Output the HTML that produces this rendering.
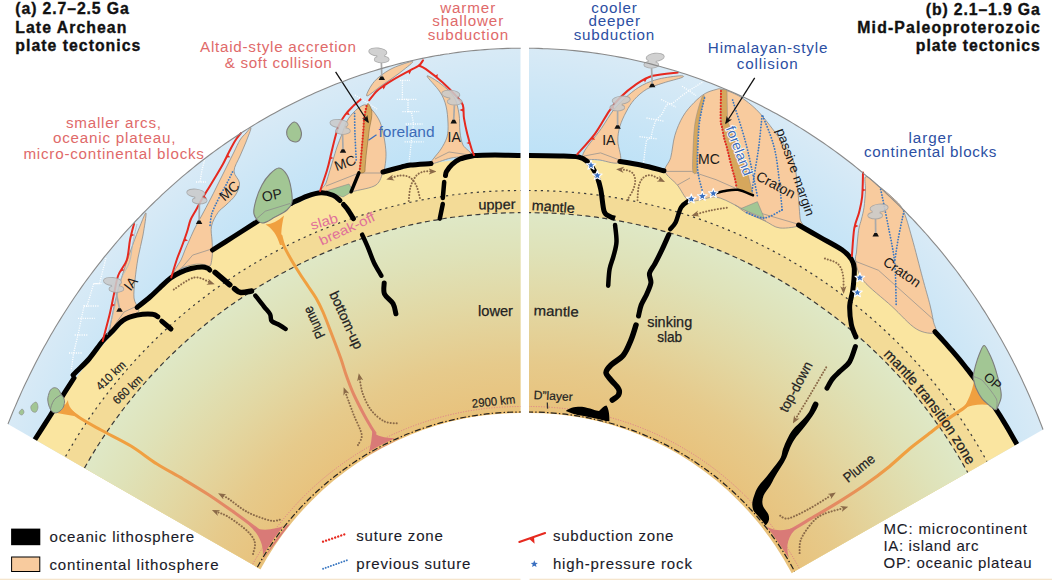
<!DOCTYPE html>
<html><head><meta charset="utf-8"><style>
html,body{margin:0;padding:0;background:#fff;width:1052px;height:581px;overflow:hidden}
svg{display:block;font-family:"Liberation Sans",sans-serif}
.h{font-weight:bold;font-size:15.8px;fill:#111;stroke:#111;stroke-width:0.35px}
.r{font-size:15.2px;fill:#e06a6a}
.b{font-size:15.2px;fill:#2c4fa3}
.b2{font-size:14px;fill:#3d6cb8}
.b2h{font-size:14px;fill:#3d6cb8;stroke:#fff;stroke-width:1.6px;paint-order:stroke}
.k14{font-size:14px;fill:#1a1a1a}
.k13{font-size:13px;fill:#1a1a1a}
.m{font-size:14px;fill:#222;stroke:#222;stroke-width:0.25px}
.m2{font-size:12px;fill:#222;stroke:#222;stroke-width:0.2px}
.p{font-size:13.5px;fill:#e0709a}
.l{font-size:15px;fill:#1a1a28;stroke:#1a1a28;stroke-width:0.12px}
.l2{font-size:15px;fill:#1a1a28;stroke:#1a1a28;stroke-width:0.1px}
</style></head><body>
<svg width="1052" height="581" viewBox="0 0 1052 581">
<defs>
 <clipPath id="cL"><polygon points="-100,362.2 520.7,718.6 520.7,-50 -100,-50"/></clipPath>
 <clipPath id="cR"><polygon points="529,722.8 1152,367.4 1152,-50 529,-50"/></clipPath>
 <radialGradient id="gOL" gradientUnits="userSpaceOnUse" cx="546.0" cy="619.6" r="572.0">
   <stop offset="0.8" stop-color="#bbe1f7"/><stop offset="0.9" stop-color="#c9e5f6"/><stop offset="1" stop-color="#d8eaf6"/>
 </radialGradient>
 <radialGradient id="gOR" gradientUnits="userSpaceOnUse" cx="503.7" cy="619.6" r="572.0">
   <stop offset="0.8" stop-color="#bbe1f7"/><stop offset="0.9" stop-color="#c9e5f6"/><stop offset="1" stop-color="#d8eaf6"/>
 </radialGradient>
 <radialGradient id="gLML" gradientUnits="userSpaceOnUse" cx="520.7" cy="713.0" r="500.3">
   <stop offset="0.6" stop-color="#e8c27c"/><stop offset="0.7" stop-color="#e6ca8b"/><stop offset="0.82" stop-color="#e2d8a4"/><stop offset="0.92" stop-color="#dfe2b8"/><stop offset="1" stop-color="#dfe8c6"/>
 </radialGradient>
 <radialGradient id="gLMR" gradientUnits="userSpaceOnUse" cx="529.0" cy="713.0" r="500.3">
   <stop offset="0.6" stop-color="#e8c27c"/><stop offset="0.7" stop-color="#e6ca8b"/><stop offset="0.82" stop-color="#e2d8a4"/><stop offset="0.92" stop-color="#dfe2b8"/><stop offset="1" stop-color="#dfe8c6"/>
 </radialGradient>
 <linearGradient id="gPlL" gradientUnits="userSpaceOnUse" x1="0" y1="300" x2="0" y2="440">
   <stop offset="0" stop-color="#f0a040"/><stop offset="1" stop-color="#dc7c78"/>
 </linearGradient>
 <linearGradient id="gPlL2" gradientUnits="userSpaceOnUse" x1="150" y1="0" x2="262" y2="0">
   <stop offset="0" stop-color="#f0a040"/><stop offset="1" stop-color="#dc7c78"/>
 </linearGradient>
 <linearGradient id="gPlR" gradientUnits="userSpaceOnUse" x1="900" y1="0" x2="790" y2="0">
   <stop offset="0" stop-color="#f0a040"/><stop offset="1" stop-color="#dc7c78"/>
 </linearGradient>
 <marker id="ah" viewBox="0 0 10 10" refX="5" refY="5" markerWidth="3.9" markerHeight="3.9" orient="auto-start-reverse">
   <path d="M0,1 L10,5 L0,9 L3,5Z" fill="#8b6a48"/>
 </marker>
 <marker id="ahk" viewBox="0 0 10 10" refX="8" refY="5" markerWidth="6" markerHeight="6" orient="auto">
   <path d="M0,1 L10,5 L0,9 L2.5,5Z" fill="#111"/>
 </marker>
 <symbol id="star" viewBox="-6 -6 12 12" overflow="visible">
   <path d="M0,-5 L1.3,-1.7 L4.8,-1.5 L2.1,0.7 L3,4.1 L0,2.2 L-3,4.1 L-2.1,0.7 L-4.8,-1.5 L-1.3,-1.7Z" fill="#3a70c0" stroke="#fff" stroke-width="1.1" stroke-linejoin="round"/>
 </symbol>
</defs>
<g clip-path="url(#cL)">
<path d="M-0.1,445.6 L1.5,441.3 L3.0,437.1 L4.6,432.8 L6.2,428.6 L7.8,424.4 L9.5,420.2 L11.2,416.0 L12.9,411.8 L14.7,407.6 L16.5,403.5 L18.3,399.3 L20.1,395.2 L21.9,391.1 L23.8,387.0 L25.7,382.9 L27.7,378.9 L29.7,374.8 L31.7,370.8 L33.7,366.7 L35.7,362.7 L37.8,358.7 L39.9,354.8 L42.0,350.8 L44.2,346.8 L46.4,342.9 L48.6,339.0 L50.8,335.1 L53.1,331.2 L55.4,327.3 L57.7,323.5 L60.1,319.6 L62.5,315.8 L64.9,312.0 L67.3,308.2 L69.7,304.5 L72.2,300.7 L74.7,297.0 L77.3,293.3 L79.8,289.6 L82.4,285.9 L85.0,282.3 L87.7,278.6 L90.4,275.0 L93.1,271.4 L95.8,267.9 L98.5,264.3 L101.3,260.8 L104.1,257.2 L106.9,253.8 L109.8,250.3 L112.7,246.8 L115.6,243.4 L118.5,240.0 L121.4,236.6 L124.4,233.2 L127.4,229.9 L130.5,226.6 L133.5,223.3 L136.6,220.0 L139.7,216.8 L142.8,213.5 L146.0,210.3 L149.2,207.1 L152.4,204.0 L155.6,200.9 L158.9,197.8 L162.1,194.7 L165.4,191.6 L168.8,188.6 L172.1,185.6 L175.5,182.6 L178.9,179.7 L182.3,176.7 L185.7,173.8 L189.2,171.0 L192.7,168.1 L196.2,165.3 L199.7,162.5 L203.3,159.7 L206.9,157.0 L210.5,154.3 L214.1,151.6 L217.7,149.0 L221.4,146.4 L225.1,143.8 L228.8,141.2 L232.5,138.7 L236.3,136.2 L240.0,133.7 L243.8,131.3 L247.6,128.9 L251.5,126.5 L255.3,124.1 L259.2,121.8 L263.1,119.5 L267.0,117.3 L270.9,115.1 L274.8,112.9 L278.8,110.7 L282.8,108.6 L286.8,106.5 L290.8,104.5 L294.8,102.4 L298.9,100.4 L302.9,98.5 L307.0,96.6 L311.1,94.7 L315.2,92.8 L319.4,91.0 L323.5,89.2 L327.7,87.5 L331.8,85.8 L336.0,84.1 L340.2,82.5 L344.4,80.9 L348.7,79.3 L352.9,77.8 L357.2,76.3 L361.4,74.8 L365.7,73.4 L370.0,72.0 L374.3,70.7 L378.6,69.4 L383.0,68.1 L387.3,66.9 L391.7,65.7 L396.0,64.5 L400.4,63.4 L404.8,62.3 L409.2,61.3 L413.6,60.3 L418.0,59.3 L422.4,58.4 L426.8,57.5 L431.2,56.6 L435.6,55.8 L440.1,55.1 L444.5,54.3 L449.0,53.7 L453.4,53.0 L457.9,52.4 L462.4,51.8 L466.8,51.3 L471.3,50.8 L475.8,50.4 L480.3,50.0 L484.8,49.6 L489.3,49.3 L493.7,49.0 L498.2,48.8 L502.7,48.6 L507.2,48.4 L511.7,48.3 L516.2,48.3 L520.7,48.2 L525.2,48.2 L529.7,48.3 L534.2,48.4 L538.6,48.5 L543.1,48.7 L560,730 L-120,730 Z" fill="url(#gOL)"/>
<circle cx="520.7" cy="713.0" r="557.0" fill="#fae5a0"/>
<circle cx="520.7" cy="713.0" r="522.5" fill="#f3db97"/>
<circle cx="520.7" cy="713.0" r="500.3" fill="url(#gLML)"/>
<circle cx="520.7" cy="713.0" r="522.5" fill="none" stroke="#3a3a3a" stroke-width="1.2" stroke-dasharray="2.2 4"/>
<circle cx="520.7" cy="713.0" r="500.3" fill="none" stroke="#3a3a3a" stroke-width="1.2" stroke-dasharray="5 3.5"/>
<circle cx="520.7" cy="713.0" r="306.5" fill="none" stroke="#dd6f8c" stroke-width="0.9" stroke-dasharray="1 1.6"/>
</g>
<g clip-path="url(#cR)">
<path d="M506.6,48.7 L511.1,48.5 L515.6,48.4 L520.2,48.3 L524.7,48.3 L529.2,48.3 L533.7,48.3 L538.3,48.4 L542.8,48.6 L547.3,48.7 L551.9,49.0 L556.4,49.2 L560.9,49.5 L565.4,49.8 L570.0,50.2 L574.5,50.6 L579.0,51.1 L583.5,51.6 L588.0,52.1 L592.5,52.7 L597.0,53.4 L601.5,54.0 L606.0,54.7 L610.5,55.5 L614.9,56.2 L619.4,57.1 L623.9,57.9 L628.3,58.8 L632.8,59.8 L637.2,60.8 L641.6,61.8 L646.1,62.8 L650.5,63.9 L654.9,65.1 L659.3,66.3 L663.6,67.5 L668.0,68.7 L672.4,70.0 L676.7,71.3 L681.1,72.7 L685.4,74.1 L689.7,75.6 L694.0,77.0 L698.3,78.5 L702.5,80.1 L706.8,81.7 L711.0,83.3 L715.3,85.0 L719.5,86.7 L723.7,88.4 L727.9,90.2 L732.1,92.0 L736.2,93.8 L740.4,95.7 L744.5,97.6 L748.6,99.5 L752.7,101.5 L756.8,103.5 L760.8,105.6 L764.9,107.7 L768.9,109.8 L772.9,111.9 L776.9,114.1 L780.8,116.3 L784.8,118.6 L788.7,120.8 L792.6,123.1 L796.5,125.5 L800.4,127.9 L804.2,130.3 L808.1,132.7 L811.9,135.2 L815.7,137.7 L819.4,140.2 L823.2,142.8 L826.9,145.4 L830.6,148.0 L834.3,150.6 L837.9,153.3 L841.6,156.0 L845.2,158.8 L848.8,161.5 L852.4,164.3 L855.9,167.1 L859.4,170.0 L862.9,172.9 L866.4,175.8 L869.9,178.7 L873.3,181.7 L876.7,184.7 L880.1,187.7 L883.5,190.7 L886.8,193.8 L890.1,196.9 L893.4,200.0 L896.6,203.1 L899.9,206.3 L903.1,209.5 L906.3,212.7 L909.4,216.0 L912.6,219.2 L915.7,222.5 L918.8,225.8 L921.8,229.2 L924.9,232.5 L927.9,235.9 L930.8,239.3 L933.8,242.8 L936.7,246.2 L939.6,249.7 L942.5,253.2 L945.3,256.7 L948.2,260.3 L950.9,263.8 L953.7,267.4 L956.5,271.0 L959.2,274.6 L961.8,278.3 L964.5,281.9 L967.1,285.6 L969.7,289.3 L972.3,293.0 L974.9,296.8 L977.4,300.5 L979.9,304.3 L982.3,308.1 L984.8,311.9 L987.2,315.8 L989.5,319.6 L991.9,323.5 L994.2,327.4 L996.5,331.3 L998.8,335.2 L1001.0,339.1 L1003.2,343.1 L1005.4,347.0 L1007.6,351.0 L1009.7,355.0 L1011.8,359.0 L1013.8,363.1 L1015.9,367.1 L1017.9,371.2 L1019.9,375.2 L1021.8,379.3 L1023.7,383.4 L1025.6,387.6 L1027.5,391.7 L1029.3,395.8 L1031.1,400.0 L1032.9,404.2 L1034.7,408.4 L1036.4,412.6 L1038.1,416.8 L1039.7,421.0 L1041.4,425.2 L1043.0,429.5 L1044.5,433.8 L1046.1,438.0 L1047.6,442.3 L1049.1,446.6 L1050.5,450.9 L1180,730 L500,730 Z" fill="url(#gOR)"/>
<circle cx="529.0" cy="713.0" r="557.0" fill="#fae5a0"/>
<circle cx="529.0" cy="713.0" r="522.5" fill="#f3db97"/>
<circle cx="529.0" cy="713.0" r="500.3" fill="url(#gLMR)"/>
<circle cx="529.0" cy="713.0" r="522.5" fill="none" stroke="#3a3a3a" stroke-width="1.2" stroke-dasharray="2.2 4"/>
<circle cx="529.0" cy="713.0" r="500.3" fill="none" stroke="#3a3a3a" stroke-width="1.2" stroke-dasharray="5 3.5"/>
<circle cx="529.0" cy="713.0" r="306.5" fill="none" stroke="#dd6f8c" stroke-width="0.9" stroke-dasharray="1 1.6"/>
</g>
<g clip-path="url(#cL)"><path d="M106.0,258.0 L99.5,283.5 L93.7,283.6 L87.0,306.0 L84.0,306.0 L81.4,318.3 L78.0,335.0 L73.6,353.0 L71.3,370.0" fill="none" stroke="#fff" stroke-width="1.3" stroke-dasharray="1.1 1.2"/>
<path d="M93.7,283.6 L101.5,283.6" fill="none" stroke="#fff" stroke-width="1.3" stroke-dasharray="1.1 1.2"/>
<path d="M83.6,306.0 L99.3,306.0" fill="none" stroke="#fff" stroke-width="1.3" stroke-dasharray="1.1 1.2"/>
<path d="M78.0,318.3 L94.8,318.3" fill="none" stroke="#fff" stroke-width="1.3" stroke-dasharray="1.1 1.2"/>
<path d="M74.7,335.0 L88.1,335.0" fill="none" stroke="#fff" stroke-width="1.3" stroke-dasharray="1.1 1.2"/>
<path d="M69.0,353.0 L82.5,353.0" fill="none" stroke="#fff" stroke-width="1.3" stroke-dasharray="1.1 1.2"/>
<path d="M205.0,158.0 L202.0,170.0 L200.0,182.0" fill="none" stroke="#fff" stroke-width="1.3" stroke-dasharray="1.1 1.2"/>
<path d="M196.0,182.0 L206.0,182.0" fill="none" stroke="#fff" stroke-width="1.3" stroke-dasharray="1.1 1.2"/>
<path d="M402.4,80.3 L402.4,99.3 L408.0,99.3 L408.0,111.6 L411.3,111.6 L413.6,124.0 L413.6,124.0 L411.3,141.9 L409.1,162.0" fill="none" stroke="#fff" stroke-width="1.3" stroke-dasharray="1.1 1.2"/>
<path d="M400.0,80.3 L410.0,80.3" fill="none" stroke="#fff" stroke-width="1.3" stroke-dasharray="1.1 1.2"/>
<path d="M396.8,99.3 L416.9,99.3" fill="none" stroke="#fff" stroke-width="1.3" stroke-dasharray="1.1 1.2"/>
<path d="M402.4,111.6 L419.2,111.6" fill="none" stroke="#fff" stroke-width="1.3" stroke-dasharray="1.1 1.2"/>
<path d="M405.7,124.0 L422.5,124.0" fill="none" stroke="#fff" stroke-width="1.3" stroke-dasharray="1.1 1.2"/>
<path d="M404.6,141.9 L423.6,141.9" fill="none" stroke="#fff" stroke-width="1.3" stroke-dasharray="1.1 1.2"/>
<path d="M355.0,95.0 L366.0,102.0 L377.0,109.0" fill="none" stroke="#fff" stroke-width="1.3" stroke-dasharray="1.1 1.2"/>
<path d="M146.0,213.0 C146.5,214.5 144.3,227.5 143.0,235.0 C141.7,242.5 139.3,250.5 138.0,258.0 C136.7,265.5 135.7,273.3 135.0,280.0 C134.3,286.7 133.5,293.3 134.0,298.0 C134.5,302.7 137.4,305.6 138.0,308.0 C138.6,310.4 139.9,310.8 137.5,312.5 C135.1,314.2 127.8,315.1 123.5,318.0 C119.2,320.9 114.4,327.0 112.0,330.0 C109.6,333.0 109.2,337.3 109.0,336.0 C108.8,334.7 110.0,327.7 111.0,322.0 C112.0,316.3 113.5,308.5 115.0,302.0 C116.5,295.5 118.2,289.3 120.0,283.0 C121.8,276.7 123.8,270.5 126.0,264.0 C128.2,257.5 130.7,250.3 133.0,244.0 C135.3,237.7 137.8,231.2 140.0,226.0 C142.2,220.8 145.5,211.5 146.0,213.0Z" fill="#f8cb9e" stroke="#8c8c8c" stroke-width="0.8" stroke-linejoin="round"/>
<path d="M114,326 L124,312 L137,306" fill="none" stroke="#8c8c8c" stroke-width="0.7"/>
<path d="M251.0,128.0 C251.0,129.5 247.8,137.3 246.0,142.0 C244.2,146.7 242.0,151.2 240.0,156.0 C238.0,160.8 234.1,166.5 234.0,171.0 C233.9,175.5 239.2,179.0 239.5,183.0 C239.8,187.0 237.8,191.3 235.5,195.0 C233.2,198.7 228.9,202.1 226.0,205.0 C223.1,207.9 220.4,209.0 218.0,212.5 C215.6,216.0 212.5,221.4 211.5,226.0 C210.5,230.6 211.8,236.0 212.0,240.0 C212.2,244.0 212.5,247.0 212.5,250.0 C212.5,253.0 212.4,255.3 212.0,258.0 C211.6,260.7 211.3,264.9 210.0,266.0 C208.7,267.1 206.7,264.8 204.0,264.5 C201.3,264.2 197.8,263.8 194.0,264.5 C190.2,265.2 184.3,266.9 181.0,268.5 C177.7,270.1 174.8,274.1 174.0,274.0 C173.2,273.9 174.8,270.3 176.0,268.0 C177.2,265.7 179.5,263.0 181.0,260.0 C182.5,257.0 183.7,253.2 185.0,250.0 C186.3,246.8 187.7,244.0 189.0,241.0 C190.3,238.0 191.7,234.8 193.0,232.0 C194.3,229.2 195.5,226.8 197.0,224.0 C198.5,221.2 200.5,217.8 202.0,215.0 C203.5,212.2 204.5,210.3 206.0,207.5 C207.5,204.7 209.3,201.2 211.0,198.0 C212.7,194.8 214.2,191.7 216.0,188.0 C217.8,184.3 220.0,180.0 222.0,176.0 C224.0,172.0 226.0,168.0 228.0,164.0 C230.0,160.0 232.0,156.0 234.0,152.0 C236.0,148.0 238.0,143.2 240.0,140.0 C242.0,136.8 244.2,135.0 246.0,133.0 C247.8,131.0 251.0,126.5 251.0,128.0Z" fill="#f8cb9e" stroke="#8c8c8c" stroke-width="0.8" stroke-linejoin="round"/>
<path d="M180.7,269 L192.7,255.1 L211.7,249" fill="none" stroke="#8c8c8c" stroke-width="0.7"/>
<path d="M366.0,105.0 C368.2,105.7 370.7,108.2 373.0,111.0 C375.3,113.8 378.2,117.7 380.0,122.0 C381.8,126.3 383.0,131.8 384.0,137.0 C385.0,142.2 385.8,148.2 386.0,153.0 C386.2,157.8 385.5,162.8 385.0,166.0 C384.5,169.2 384.5,168.8 383.0,172.0 C381.5,175.2 380.7,181.8 376.0,185.0 C371.3,188.2 360.8,189.5 355.0,191.0 C349.2,192.5 346.5,194.0 341.0,194.0 C335.5,194.0 324.5,192.8 322.0,191.0 C319.5,189.2 324.7,186.5 326.0,183.0 C327.3,179.5 328.8,173.8 330.0,170.0 C331.2,166.2 331.8,163.8 333.0,160.0 C334.2,156.2 335.5,151.3 337.0,147.0 C338.5,142.7 340.3,138.3 342.0,134.0 C343.7,129.7 345.0,124.7 347.0,121.0 C349.0,117.3 351.8,114.3 354.0,112.0 C356.2,109.7 358.0,108.2 360.0,107.0 C362.0,105.8 363.8,104.3 366.0,105.0Z" fill="#f8cb9e" stroke="#8c8c8c" stroke-width="0.8" stroke-linejoin="round"/>
<path d="M326.0,191.0 L349.0,184.0 L353.0,191.0 L343.0,197.0Z" fill="#a2c694" stroke="#8c8c8c" stroke-width="0.6" stroke-linejoin="round"/>
<path d="M326,186 L359,173 L383,173" fill="none" stroke="#8c8c8c" stroke-width="0.7"/>
<path d="M368.0,103.5 C368.9,103.5 370.9,107.6 371.5,110.0 C372.1,112.4 371.8,115.0 371.5,118.0 C371.2,121.0 370.1,124.3 369.5,128.0 C368.9,131.7 368.5,136.0 368.0,140.0 C367.5,144.0 367.0,147.7 366.5,152.0 C366.0,156.3 365.5,162.7 365.2,166.0 C364.9,169.3 365.4,171.0 364.5,172.0 C363.6,173.0 360.1,173.7 359.5,172.0 C358.9,170.3 360.2,166.0 360.6,161.7 C361.0,157.4 361.5,151.1 362.0,146.0 C362.5,140.9 363.2,135.3 363.5,131.0 C363.8,126.7 363.6,123.5 364.0,120.0 C364.4,116.5 365.3,112.8 366.0,110.0 C366.7,107.2 367.1,103.5 368.0,103.5Z" fill="#d6a75c" stroke="#8a6a3a" stroke-width="0.6" stroke-linejoin="round"/>
<path d="M367.0,96.0 C365.3,96.0 369.0,89.2 371.0,86.0 C373.0,82.8 375.3,80.0 379.0,77.0 C382.7,74.0 387.4,70.6 393.0,68.0 C398.6,65.4 410.7,61.2 412.5,61.5 C414.3,61.8 407.1,66.9 404.0,69.5 C400.9,72.1 397.8,74.2 394.0,77.0 C390.2,79.8 385.5,82.8 381.0,86.0 C376.5,89.2 368.7,96.0 367.0,96.0Z" fill="#f8cb9e" stroke="#8c8c8c" stroke-width="0.8" stroke-linejoin="round"/>
<path d="M427.0,76.0 C427.2,74.7 436.5,80.5 441.0,84.0 C445.5,87.5 451.0,92.0 454.0,97.0 C457.0,102.0 458.0,108.2 459.0,114.0 C460.0,119.8 459.3,126.8 460.0,132.0 C460.7,137.2 461.2,141.2 463.0,145.0 C464.8,148.8 473.0,152.8 471.0,155.0 C469.0,157.2 457.7,156.5 451.0,158.0 C444.3,159.5 433.8,164.0 431.0,164.0 C428.2,164.0 432.3,160.5 434.0,158.0 C435.7,155.5 438.8,152.5 441.0,149.0 C443.2,145.5 445.8,141.3 447.0,137.0 C448.2,132.7 448.2,128.2 448.0,123.0 C447.8,117.8 447.3,111.2 446.0,106.0 C444.7,100.8 443.2,97.0 440.0,92.0 C436.8,87.0 426.8,77.3 427.0,76.0Z" fill="#f8cb9e" stroke="#8c8c8c" stroke-width="0.8" stroke-linejoin="round"/>
<path d="M435,159 L449,152 L470,155" fill="none" stroke="#8c8c8c" stroke-width="0.7"/>
<path d="M64.0,406.0 C66.7,408.0 73.8,414.0 80.0,418.0 C86.2,422.0 92.5,425.3 101.0,430.0 C109.5,434.7 121.7,440.3 131.0,446.0 C140.3,451.7 148.3,458.5 157.0,464.0 C165.7,469.5 174.3,473.8 183.0,479.0 C191.7,484.2 200.3,489.3 209.0,495.0 C217.7,500.7 226.8,507.2 235.0,513.0 C243.2,518.8 251.8,525.5 258.0,530.0 C264.2,534.5 269.7,538.3 272.0,540.0" fill="none" stroke="url(#gPlL2)" stroke-width="3.1" stroke-linecap="round"/>
<path d="M57,413 C63,408 66,404 68,400 C68,406 72,411 80,417 C72,416 64,414 57,413Z" fill="#f0a040"/>
<path d="M281.0,236.0 C281.5,237.7 282.2,241.8 284.0,246.0 C285.8,250.2 289.3,256.3 292.0,261.0 C294.7,265.7 297.3,269.8 300.0,274.0 C302.7,278.2 305.3,282.0 308.0,286.0 C310.7,290.0 313.5,293.7 316.0,298.0 C318.5,302.3 320.3,305.8 323.0,312.0 C325.7,318.2 329.0,327.2 332.0,335.0 C335.0,342.8 338.6,352.2 341.0,359.0 C343.4,365.8 344.3,370.0 346.5,376.0 C348.7,382.0 351.1,388.7 354.0,395.0 C356.9,401.3 360.8,408.7 363.6,414.0 C366.4,419.3 369.1,423.8 371.0,427.0 C372.9,430.2 374.3,432.0 375.0,433.0" fill="none" stroke="url(#gPlL)" stroke-width="3" stroke-linecap="round"/>
<path d="M265.5,224.5 C272,224 278,221 284,215.5 C281.5,226 280.5,235 282,245 L280,245 C277,235 272,228 265.5,224.5Z" fill="#f0a040"/>
<path d="M248,524 C258,531 268,532 290,524 L262,561 C265,548 261,536 248,524Z" fill="#d97a77"/>
<path d="M372.5,428 C374,436 381,438 400,438.5 L368,455 C371,446 372,437 372.5,428Z" fill="#d97a77"/>
<path d="M26.0,454.0 C27.3,451.8 30.0,447.3 34.0,441.0 C38.0,434.7 44.8,424.2 50.0,416.0 C55.2,407.8 61.0,398.3 65.0,392.0 C69.0,385.7 72.5,380.3 74.0,378.0" fill="none" stroke="#000" stroke-width="5" stroke-linecap="round" stroke-linejoin="round"/>
<path d="M73.0,375.0 C73.7,374.3 74.3,373.7 77.0,371.0 C79.7,368.3 84.7,364.0 89.0,359.0 C93.3,354.0 99.0,345.4 102.7,341.0 C106.4,336.6 107.9,335.8 111.3,332.3 C114.7,328.9 119.0,323.2 123.3,320.3 C127.6,317.4 132.2,316.1 137.1,315.1 C142.0,314.1 149.1,313.9 152.6,314.2 C156.1,314.5 156.9,316.4 157.8,316.8" fill="none" stroke="#000" stroke-width="5" stroke-linecap="round" stroke-linejoin="round"/>
<path d="M161.7,321.2 L171.0,329.0" fill="none" stroke="#000" stroke-width="5" stroke-linecap="round" stroke-linejoin="round"/>
<path d="M137.1,307.4 C139.2,305.7 146.2,300.3 150.0,297.0 C153.8,293.7 156.5,290.8 160.0,287.6 C163.5,284.4 167.6,280.3 171.0,277.8 C174.4,275.3 177.0,273.9 180.3,272.4 C183.7,270.8 187.5,269.4 191.1,268.5 C194.7,267.6 199.2,267.0 202.0,267.0 C204.8,267.0 206.9,268.0 208.2,268.5 C209.5,269.0 209.4,269.8 209.7,270.0" fill="none" stroke="#000" stroke-width="5" stroke-linecap="round" stroke-linejoin="round"/>
<path d="M215.1,272.4 L229.8,284.8" fill="none" stroke="#000" stroke-width="5.5" stroke-linecap="round" stroke-linejoin="round"/>
<path d="M234.5,288.7 C235.5,289.3 237.9,292.1 240.7,292.5 C243.5,292.9 249.7,291.2 251.5,291.0" fill="none" stroke="#000" stroke-width="5.5" stroke-linecap="round" stroke-linejoin="round"/>
<path d="M255.4,295.6 C256.8,297.4 261.4,303.4 263.9,306.5 C266.3,309.6 268.8,311.8 270.1,314.2 C271.4,316.6 270.1,319.2 271.7,321.0 C273.2,322.8 277.1,323.7 279.4,325.0 C281.7,326.3 284.6,328.3 285.6,329.0" fill="none" stroke="#000" stroke-width="4.5" stroke-linecap="round" stroke-linejoin="round"/>
<path d="M212.5,250.0 C215.9,247.8 226.0,241.5 233.0,237.0 C240.0,232.5 248.2,227.4 254.7,223.2 C261.2,219.0 266.0,215.3 272.0,212.0 C278.0,208.7 287.8,204.8 290.9,203.4" fill="none" stroke="#000" stroke-width="5" stroke-linecap="round" stroke-linejoin="round"/>
<path d="M290.9,203.4 C293.6,202.2 302.2,197.9 307.2,196.1 C312.2,194.3 316.7,192.8 321.0,192.7 C325.3,192.5 329.8,193.9 333.0,195.2 C336.2,196.5 338.8,199.6 340.0,200.5" fill="none" stroke="#000" stroke-width="5" stroke-linecap="round" stroke-linejoin="round"/>
<path d="M343.5,204.5 C344.2,205.4 346.4,207.7 348.0,210.0 C349.6,212.3 352.5,217.2 353.4,218.6" fill="none" stroke="#000" stroke-width="5" stroke-linecap="round" stroke-linejoin="round"/>
<path d="M362.2,234.7 C363.2,236.9 366.2,243.3 368.1,247.9 C370.1,252.5 371.7,257.9 373.9,262.5 C376.1,267.1 380.1,273.5 381.3,275.7" fill="none" stroke="#000" stroke-width="4.5" stroke-linecap="round" stroke-linejoin="round"/>
<path d="M384.2,283.0 C384.2,284.8 383.0,290.6 384.5,294.0 C386.0,297.4 391.1,300.2 393.0,303.5 C394.9,306.8 395.4,312.1 395.9,313.8" fill="none" stroke="#000" stroke-width="5" stroke-linecap="round" stroke-linejoin="round"/>
<path d="M358.9,172.9 L351.1,191.8" fill="none" stroke="#000" stroke-width="3.5" stroke-linecap="round" stroke-linejoin="round"/>
<path d="M383.0,172.0 C386.2,171.1 397.4,168.0 402.0,166.8 C406.6,165.7 405.7,165.7 410.5,165.1 C415.3,164.5 427.6,163.8 431.0,163.5" fill="none" stroke="#000" stroke-width="5" stroke-linecap="round" stroke-linejoin="round"/>
<path d="M400,168 L400,170 M431,163.5 L431,166" stroke="#000" stroke-width="1"/>
<path d="M474.0,155.5 C477.5,155.4 487.2,155.0 495.0,155.0 C502.8,155.0 516.7,155.4 521.0,155.5" fill="none" stroke="#000" stroke-width="5" stroke-linecap="butt" stroke-linejoin="round"/>
<path d="M474.0,155.5 C471.7,156.1 463.7,157.5 460.0,159.0 C456.3,160.5 454.2,162.4 452.0,164.5 C449.8,166.6 447.6,169.7 446.5,171.5 C445.4,173.3 445.7,174.8 445.5,175.5" fill="none" stroke="#000" stroke-width="5" stroke-linecap="round" stroke-linejoin="round"/>
<path d="M444.2,182.0 L442.8,198.0" fill="none" stroke="#000" stroke-width="4.5" stroke-linecap="round" stroke-linejoin="round"/>
<path d="M442.8,204.0 L439.8,218.6" fill="none" stroke="#000" stroke-width="4.5" stroke-linecap="round" stroke-linejoin="round"/>
<path d="M254.0,214.0 C253.0,210.2 254.7,204.8 256.0,200.0 C257.3,195.2 259.7,189.3 262.0,185.0 C264.3,180.7 267.2,176.8 270.0,174.0 C272.8,171.2 276.2,167.8 279.0,168.0 C281.8,168.2 285.0,171.7 287.0,175.0 C289.0,178.3 290.2,183.5 291.0,188.0 C291.8,192.5 292.7,198.3 292.0,202.0 C291.3,205.7 289.8,207.5 287.0,210.0 C284.2,212.5 279.2,214.8 275.0,217.0 C270.8,219.2 265.5,223.5 262.0,223.0 C258.5,222.5 255.0,217.8 254.0,214.0Z" fill="#a2c694" stroke="#7d7d7d" stroke-width="1.1" stroke-linejoin="round"/>
<path d="M254,221 L265.3,211.2 L290,203.5" fill="none" stroke="#8c8c8c" stroke-width="0.8"/>
<path d="M294.0,122.0 C296.2,121.7 298.8,125.5 300.0,128.0 C301.2,130.5 301.7,134.7 301.0,137.0 C300.3,139.3 298.0,141.7 296.0,142.0 C294.0,142.3 290.5,141.0 289.0,139.0 C287.5,137.0 286.2,132.8 287.0,130.0 C287.8,127.2 291.8,122.3 294.0,122.0Z" fill="#a2c694" stroke="#7d7d7d" stroke-width="1.1" stroke-linejoin="round"/>
<path d="M48.4,395.4 C48.9,393.7 49.5,391.3 50.5,390.0 C51.5,388.7 53.1,387.8 54.4,387.7 C55.7,387.6 57.4,388.4 58.5,389.5 C59.6,390.6 60.5,393.3 61.3,394.6 C62.1,395.9 63.0,396.3 63.5,397.5 C64.0,398.7 64.7,400.2 64.5,402.0 C64.3,403.8 63.8,406.7 62.5,408.5 C61.2,410.3 58.8,412.2 57.0,412.7 C55.2,413.2 53.3,412.6 52.0,411.5 C50.7,410.4 49.7,407.9 49.0,406.0 C48.3,404.1 47.9,401.8 47.8,400.0 C47.7,398.2 47.9,397.1 48.4,395.4Z" fill="#a2c694" stroke="#808080" stroke-width="1" stroke-linejoin="round"/>
<path d="M50.5,409 C51.5,404 53.5,400 56,398 C58,396.5 60,395.5 61.5,394.5" fill="none" stroke="#808080" stroke-width="0.9"/>
<path d="M36.0,402.0 C37.2,402.2 38.0,405.3 38.0,407.0 C38.0,408.7 37.0,411.3 36.0,412.0 C35.0,412.7 32.8,412.0 32.0,411.0 C31.2,410.0 30.3,407.5 31.0,406.0 C31.7,404.5 34.8,401.8 36.0,402.0Z" fill="#a2c694" stroke="#8c8c8c" stroke-width="0.6" stroke-linejoin="round"/>
<path d="M22.0,409.0 C22.8,408.8 24.0,411.0 24.0,412.0 C24.0,413.0 22.8,414.8 22.0,415.0 C21.2,415.2 19.0,414.0 19.0,413.0 C19.0,412.0 21.2,409.2 22.0,409.0Z" fill="#a2c694" stroke="#8c8c8c" stroke-width="0.6" stroke-linejoin="round"/>
<path d="M134.0,224.0 C133.3,226.7 131.2,234.0 130.0,240.0 C128.8,246.0 128.8,254.1 126.8,260.0 C124.8,265.9 120.3,269.8 118.2,275.5 C116.1,281.2 115.4,287.8 113.9,294.4 C112.5,301.0 111.4,307.3 109.5,315.1 C107.6,322.9 103.8,336.7 102.7,341.0" fill="none" stroke="#e6291f" stroke-width="2" stroke-linecap="round" stroke-linejoin="round"/>
<path d="M241.0,133.0 C240.0,134.3 237.0,137.8 235.0,141.0 C233.0,144.2 231.0,148.2 229.0,152.0 C227.0,155.8 225.2,160.0 223.0,164.0 C220.8,168.0 218.4,172.0 216.0,176.0 C213.6,180.0 210.9,184.4 208.6,188.2 C206.3,192.0 204.1,195.4 202.0,199.0 C199.9,202.6 197.9,206.5 196.0,210.0 C194.1,213.5 192.0,216.3 190.5,220.0 C189.0,223.7 188.4,227.7 187.0,232.0 C185.6,236.3 183.7,241.5 182.0,246.0 C180.3,250.5 178.8,253.8 177.0,259.0 C175.2,264.2 172.2,274.4 171.2,277.5" fill="none" stroke="#e6291f" stroke-width="2" stroke-linecap="round" stroke-linejoin="round"/>
<path d="M423.0,60.3 C422.3,61.2 421.1,63.9 419.0,65.5 C416.9,67.1 414.8,67.8 410.5,70.1 C406.2,72.4 397.7,77.0 393.3,79.6 C388.9,82.2 386.8,83.6 383.9,85.6 C381.0,87.6 378.6,89.2 376.1,91.7 C373.7,94.2 370.4,98.9 369.2,100.3" fill="none" stroke="#e6291f" stroke-width="2" stroke-linecap="round" stroke-linejoin="round"/>
<path d="M360.6,99.4 C359.2,100.7 354.6,104.6 352.0,107.2 C349.4,109.8 347.2,112.0 345.0,115.0 C342.8,118.0 340.6,121.5 339.0,125.0 C337.4,128.5 336.9,131.1 335.6,135.8 C334.3,140.5 332.7,147.2 331.3,153.0 C329.9,158.8 328.9,164.0 327.0,170.3 C325.1,176.6 321.2,187.6 320.1,191.0" fill="none" stroke="#e6291f" stroke-width="2" stroke-linecap="round" stroke-linejoin="round"/>
<path d="M419.0,65.5 C420.1,66.1 421.9,66.3 425.9,69.1 C429.8,71.9 437.7,78.0 442.7,82.5 C447.7,87.0 452.8,92.3 456.1,96.0 C459.5,99.7 461.5,101.2 462.8,104.9 C464.1,108.6 463.2,113.6 464.0,118.4 C464.8,123.2 466.0,128.8 467.3,134.0 C468.6,139.2 470.7,146.2 471.8,149.7 C472.9,153.2 473.6,154.1 474.0,155.0" fill="none" stroke="#e6291f" stroke-width="2" stroke-linecap="round" stroke-linejoin="round"/>
<path d="M131.0,236.6 L134.6,235.0 L131.0,233.4Z" fill="#e6291f"/>
<path d="M121.0,271.6 L124.6,270.0 L121.0,268.4Z" fill="#e6291f"/>
<path d="M112.0,306.6 L115.6,305.0 L112.0,303.4Z" fill="#e6291f"/>
<path d="M226.5,157.5 L230.4,157.2 L227.5,154.5Z" fill="#e6291f"/>
<path d="M202.8,198.5 L206.8,198.5 L204.2,195.5Z" fill="#e6291f"/>
<path d="M184.2,241.6 L188.0,240.6 L184.8,238.4Z" fill="#e6291f"/>
<path d="M407.9,71.0 L409.5,74.6 L411.1,71.0Z" fill="#e6291f"/>
<path d="M382.4,85.7 L383.4,89.5 L385.6,86.3Z" fill="#e6291f"/>
<path d="M346.0,114.2 L349.8,115.3 L348.0,111.8Z" fill="#e6291f"/>
<path d="M330.0,159.6 L333.6,158.0 L330.0,156.4Z" fill="#e6291f"/>
<path d="M437.4,77.8 L437.8,73.9 L434.6,76.2Z" fill="#e6291f"/>
<path d="M463.0,108.4 L459.4,110.0 L463.0,111.6Z" fill="#e6291f"/>
<path d="M470.0,141.4 L466.4,143.0 L470.0,144.6Z" fill="#e6291f"/>
<path d="M137.0,224.0 C136.3,227.0 134.2,235.7 133.0,242.0 C131.8,248.3 131.5,255.8 129.5,262.0 C127.5,268.2 123.1,273.3 121.0,279.0 C118.9,284.7 118.4,289.8 117.0,296.0 C115.6,302.2 114.2,309.5 112.5,316.0 C110.8,322.5 107.9,331.8 107.0,335.0" fill="none" stroke="#9fb8c8" stroke-width="0.8"/>
<path d="M232.5,172.0 C231.6,173.8 229.0,179.2 227.0,183.0 C225.0,186.8 222.5,191.2 220.5,195.0 C218.5,198.8 216.5,202.7 215.0,206.0 C213.5,209.3 212.3,211.7 211.5,215.0 C210.7,218.3 210.2,224.2 210.0,226.0" fill="none" stroke="#3b78c2" stroke-width="1.8" stroke-dasharray="0.1 2.8" stroke-linecap="round"/>
<path d="M354.6,113.4 C354.7,117.0 354.7,127.0 355.0,135.0 C355.3,143.1 356.1,157.2 356.3,161.7" fill="none" stroke="#3b78c2" stroke-width="1.8" stroke-dasharray="0.1 2.8" stroke-linecap="round"/>
<path d="M366.5,106.0 C366.1,108.0 364.7,113.8 364.2,118.0 C363.7,122.2 363.7,126.3 363.3,131.0 C362.9,135.7 362.4,140.9 362.0,146.0 C361.6,151.1 361.0,157.5 360.6,161.7 C360.2,165.9 359.8,169.4 359.6,171.0" fill="none" stroke="#e6291f" stroke-width="2.2" stroke-dasharray="0.1 2.9" stroke-linecap="round"/>
<path d="M173.8,289.5 C177.2,287.5 188.2,278.6 194.4,277.5 C200.6,276.4 208.2,282.1 211.0,283.0" fill="none" stroke="#8b6a48" stroke-width="2" stroke-dasharray="0.1 2.9" stroke-linecap="round" marker-end="url(#ah)"/>
<path d="M419.9,198.0 C419.3,196.0 418.1,189.4 416.5,186.0 C414.9,182.6 412.8,179.2 410.0,177.5 C407.2,175.8 403.3,175.3 400.0,175.5 C396.7,175.7 391.7,178.0 390.0,178.5" fill="none" stroke="#8b6a48" stroke-width="2" stroke-dasharray="0.1 2.9" stroke-linecap="round" marker-end="url(#ah)"/>
<path d="M408.7,201.0 C409.0,198.7 409.3,191.2 410.5,187.0 C411.7,182.8 413.8,178.6 416.0,176.0 C418.2,173.4 421.2,172.2 424.0,171.5 C426.8,170.8 431.1,171.5 432.5,171.5" fill="none" stroke="#8b6a48" stroke-width="2" stroke-dasharray="0.1 2.9" stroke-linecap="round" marker-end="url(#ah)"/>
<path d="M357.9,445.1 C358.5,443.4 362.3,439.6 361.7,434.7 C361.1,429.8 356.3,421.5 354.1,415.8 C351.9,410.1 349.9,404.7 348.4,400.6 C346.9,396.5 345.6,392.6 345.0,391.0" fill="none" stroke="#8b6a48" stroke-width="2" stroke-dasharray="0.1 2.9" stroke-linecap="round" marker-end="url(#ah)"/>
<path d="M396.7,423.3 C394.6,423.0 388.7,423.6 384.4,421.4 C380.1,419.2 374.7,414.8 371.1,410.1 C367.5,405.4 364.5,398.5 362.6,393.0 C360.7,387.5 360.0,379.7 359.5,377.0" fill="none" stroke="#8b6a48" stroke-width="2" stroke-dasharray="0.1 2.9" stroke-linecap="round" marker-end="url(#ah)"/>
<path d="M279.8,519.7 C278.2,519.9 275.6,521.9 270.2,520.6 C264.8,519.3 254.3,515.7 247.3,512.0 C240.3,508.3 232.5,501.4 228.2,498.6 C223.9,495.8 222.6,495.6 221.5,495.0" fill="none" stroke="#8b6a48" stroke-width="2" stroke-dasharray="0.1 2.9" stroke-linecap="round" marker-end="url(#ah)"/>
<path d="M253.0,554.0 C253.3,552.1 255.8,546.4 254.9,542.6 C254.0,538.8 251.8,535.4 247.3,531.1 C242.9,526.8 233.5,520.1 228.2,516.8 C222.9,513.5 217.6,512.4 215.5,511.5" fill="none" stroke="#8b6a48" stroke-width="2" stroke-dasharray="0.1 2.9" stroke-linecap="round" marker-end="url(#ah)"/>
<line x1="116.1" y1="292.5" x2="119.5" y2="308.5" stroke="#a9a9a9" stroke-width="1.7"/>
<g opacity="0.88"><ellipse cx="112.5" cy="281.5" rx="8.7" ry="3.6" transform="rotate(6 112.5 281.5)" fill="#cbcbcb" stroke="#a3a3a3" stroke-width="1.7"/><ellipse cx="116.4" cy="288.9" rx="7" ry="3" fill="#cbcbcb" stroke="#a3a3a3" stroke-width="1.7"/><ellipse cx="115.5" cy="285.3" rx="3.6" ry="2.6" fill="#cbcbcb" stroke="#a3a3a3" stroke-width="1.7"/><ellipse cx="112.5" cy="281.5" rx="8.7" ry="3.6" transform="rotate(6 112.5 281.5)" fill="#cbcbcb" stroke="none"/><ellipse cx="116.4" cy="288.9" rx="7" ry="3" fill="#cbcbcb" stroke="none"/><ellipse cx="115.5" cy="285.3" rx="3.6" ry="2.6" fill="#cbcbcb" stroke="none"/></g>
<path d="M116.3,311.8 L118.2,308.2 L120.8,308.2 L122.7,311.8Z" fill="#111"/>
<line x1="199.4" y1="204.1" x2="199.1" y2="220.7" stroke="#a9a9a9" stroke-width="1.7"/>
<g opacity="0.88"><ellipse cx="195.8" cy="193.1" rx="8.7" ry="3.6" transform="rotate(6 195.8 193.1)" fill="#cbcbcb" stroke="#a3a3a3" stroke-width="1.7"/><ellipse cx="199.7" cy="200.5" rx="7" ry="3" fill="#cbcbcb" stroke="#a3a3a3" stroke-width="1.7"/><ellipse cx="198.8" cy="196.9" rx="3.6" ry="2.6" fill="#cbcbcb" stroke="#a3a3a3" stroke-width="1.7"/><ellipse cx="195.8" cy="193.1" rx="8.7" ry="3.6" transform="rotate(6 195.8 193.1)" fill="#cbcbcb" stroke="none"/><ellipse cx="199.7" cy="200.5" rx="7" ry="3" fill="#cbcbcb" stroke="none"/><ellipse cx="198.8" cy="196.9" rx="3.6" ry="2.6" fill="#cbcbcb" stroke="none"/></g>
<path d="M195.9,224.0 L197.8,220.4 L200.4,220.4 L202.3,224.0Z" fill="#111"/>
<line x1="342.6" y1="134.5" x2="343.0" y2="149.5" stroke="#a9a9a9" stroke-width="1.7"/>
<g opacity="0.88"><ellipse cx="339.0" cy="123.5" rx="8.7" ry="3.6" transform="rotate(6 339.0 123.5)" fill="#cbcbcb" stroke="#a3a3a3" stroke-width="1.7"/><ellipse cx="342.9" cy="130.9" rx="7" ry="3" fill="#cbcbcb" stroke="#a3a3a3" stroke-width="1.7"/><ellipse cx="342.0" cy="127.3" rx="3.6" ry="2.6" fill="#cbcbcb" stroke="#a3a3a3" stroke-width="1.7"/><ellipse cx="339.0" cy="123.5" rx="8.7" ry="3.6" transform="rotate(6 339.0 123.5)" fill="#cbcbcb" stroke="none"/><ellipse cx="342.9" cy="130.9" rx="7" ry="3" fill="#cbcbcb" stroke="none"/><ellipse cx="342.0" cy="127.3" rx="3.6" ry="2.6" fill="#cbcbcb" stroke="none"/></g>
<path d="M339.8,152.8 L341.7,149.2 L344.3,149.2 L346.2,152.8Z" fill="#111"/>
<line x1="381.4" y1="63.0" x2="381.8" y2="76.8" stroke="#a9a9a9" stroke-width="1.7"/>
<g opacity="0.88"><ellipse cx="377.8" cy="52.0" rx="8.7" ry="3.6" transform="rotate(6 377.8 52.0)" fill="#cbcbcb" stroke="#a3a3a3" stroke-width="1.7"/><ellipse cx="381.7" cy="59.4" rx="7" ry="3" fill="#cbcbcb" stroke="#a3a3a3" stroke-width="1.7"/><ellipse cx="380.8" cy="55.8" rx="3.6" ry="2.6" fill="#cbcbcb" stroke="#a3a3a3" stroke-width="1.7"/><ellipse cx="377.8" cy="52.0" rx="8.7" ry="3.6" transform="rotate(6 377.8 52.0)" fill="#cbcbcb" stroke="none"/><ellipse cx="381.7" cy="59.4" rx="7" ry="3" fill="#cbcbcb" stroke="none"/><ellipse cx="380.8" cy="55.8" rx="3.6" ry="2.6" fill="#cbcbcb" stroke="none"/></g>
<path d="M378.6,80.1 L380.5,76.5 L383.1,76.5 L385.0,80.1Z" fill="#111"/>
<line x1="454.4" y1="105.2" x2="453.7" y2="120.1" stroke="#a9a9a9" stroke-width="1.7"/>
<g opacity="0.88"><ellipse cx="450.8" cy="94.2" rx="8.7" ry="3.6" transform="rotate(6 450.8 94.2)" fill="#cbcbcb" stroke="#a3a3a3" stroke-width="1.7"/><ellipse cx="454.7" cy="101.6" rx="7" ry="3" fill="#cbcbcb" stroke="#a3a3a3" stroke-width="1.7"/><ellipse cx="453.8" cy="98.0" rx="3.6" ry="2.6" fill="#cbcbcb" stroke="#a3a3a3" stroke-width="1.7"/><ellipse cx="450.8" cy="94.2" rx="8.7" ry="3.6" transform="rotate(6 450.8 94.2)" fill="#cbcbcb" stroke="none"/><ellipse cx="454.7" cy="101.6" rx="7" ry="3" fill="#cbcbcb" stroke="none"/><ellipse cx="453.8" cy="98.0" rx="3.6" ry="2.6" fill="#cbcbcb" stroke="none"/></g>
<path d="M450.5,123.4 L452.4,119.8 L455.0,119.8 L456.9,123.4Z" fill="#111"/>
<path d="M335.6,71.9 L368,122" stroke="#111" stroke-width="1.3" marker-end="url(#ahk)"/>
<path d="M376.5,134.8 L368.5,140.3" stroke="#3b6fc0" stroke-width="1.3"/></g>
<g clip-path="url(#cR)"><path d="M702.3,82.3 L689.9,90.1 L682.1,95.5 L672.8,103.2 L666.6,104.8 L662.0,114.1 L655.8,120.3 L652.7,129.6 L651.1,137.3 L646.5,140.4 L644.9,151.3 L643.4,163.7" fill="none" stroke="#fff" stroke-width="1.3" stroke-dasharray="1.1 1.2"/>
<path d="M682.1,86.2 L696.0,95.5" fill="none" stroke="#fff" stroke-width="1.3" stroke-dasharray="1.1 1.2"/>
<path d="M661.2,99.4 L675.9,107.1" fill="none" stroke="#fff" stroke-width="1.3" stroke-dasharray="1.1 1.2"/>
<path d="M646.5,118.0 L663.5,121.1" fill="none" stroke="#fff" stroke-width="1.3" stroke-dasharray="1.1 1.2"/>
<path d="M639.5,136.6 L657.3,138.9" fill="none" stroke="#fff" stroke-width="1.3" stroke-dasharray="1.1 1.2"/>
<path d="M582.7,155.6 C582.9,150.3 596.1,136.1 601.3,128.5 C606.5,120.9 609.2,115.4 613.7,109.9 C618.2,104.4 623.3,99.5 628.1,95.4 C632.9,91.3 637.4,87.8 642.6,85.1 C647.8,82.3 652.9,80.5 659.1,78.9 C665.3,77.4 676.0,76.0 679.8,75.8 C683.6,75.6 684.8,76.3 682.0,77.5 C679.2,78.7 669.1,81.0 663.2,83.0 C657.3,85.0 651.5,86.4 646.7,89.2 C641.9,92.0 637.7,95.8 634.3,99.6 C630.9,103.4 628.5,107.5 626.1,112.0 C623.7,116.5 621.3,121.6 619.9,126.4 C618.5,131.2 617.8,135.0 617.8,140.9 C617.8,146.8 622.9,158.8 619.9,162.0 C616.9,165.2 606.2,161.1 600.0,160.0 C593.8,158.9 582.5,160.8 582.7,155.6Z" fill="#f8cb9e" stroke="#8c8c8c" stroke-width="0.8" stroke-linejoin="round"/>
<path d="M584,156 L600.6,152.9 L619.5,160" fill="none" stroke="#8c8c8c" stroke-width="0.7"/>
<path d="M665.1,171.4 C664.0,166.8 669.1,163.6 670.7,157.6 C672.3,151.6 672.8,142.5 674.8,135.6 C676.8,128.7 679.8,121.8 683.0,116.3 C686.2,110.8 690.4,106.3 694.1,102.5 C697.8,98.7 701.4,95.7 705.1,93.5 C708.8,91.3 713.5,90.2 716.1,89.5 C718.8,88.8 718.2,88.4 721.0,89.0 C723.8,89.6 729.0,91.2 733.0,93.0 C737.0,94.8 740.5,96.6 745.0,100.0 C749.5,103.4 754.5,107.2 760.2,113.6 C765.9,120.0 773.9,130.5 779.4,138.3 C784.9,146.1 790.2,152.6 793.2,160.4 C796.2,168.2 796.1,175.6 797.3,185.2 C798.4,194.8 799.4,211.5 800.1,218.2 C800.8,224.8 804.9,223.5 801.5,225.1 C798.1,226.7 786.1,228.7 780.0,228.0 C773.9,227.3 770.8,223.7 765.0,221.0 C759.2,218.3 750.0,214.7 745.0,212.0 C740.0,209.3 739.8,207.5 735.0,205.0 C730.2,202.5 721.8,197.8 716.0,197.0 C710.2,196.2 704.7,199.5 700.0,200.0 C695.3,200.5 691.8,202.5 688.0,200.0 C684.2,197.5 681.3,190.0 677.5,185.2 C673.7,180.4 666.2,176.0 665.1,171.4Z" fill="#f8cb9e" stroke="#8c8c8c" stroke-width="0.8" stroke-linejoin="round"/>
<path d="M665,171.4 L691.3,171.4 L716.1,179.7 L735,188 M677.5,185 L690,178 M760,213 L801,225 M735,205 L766,221" fill="none" stroke="#8c8c8c" stroke-width="0.7"/>
<path d="M702.3,96.5 C703.4,94.2 704.7,95.1 704.5,97.5 C704.3,99.9 702.0,106.2 701.0,111.0 C700.0,115.8 699.0,120.0 698.3,126.5 C697.6,132.9 697.2,142.3 697.0,149.7 C696.8,157.1 697.5,167.4 696.8,171.0 C696.1,174.6 693.4,174.6 692.8,171.0 C692.2,167.4 692.7,157.1 693.0,149.7 C693.3,142.3 693.7,132.9 694.5,126.5 C695.3,120.0 696.3,116.0 697.6,111.0 C698.9,106.0 701.1,98.8 702.3,96.5Z" fill="#d6a75c" stroke="#8c8c8c" stroke-width="0.5" stroke-linejoin="round"/>
<path d="M720.5,89.5 L727.0,89.8 L727.5,120.0 L734.4,140.7 L741.3,158.6 L748.2,175.1 L753.3,195.5 L736.5,188.0 L735.1,179.2 L732.4,169.6 L729.6,158.6 L726.9,147.5 L724.1,137.9 L722.0,126.9 L720.7,115.0Z" fill="#d6a75c" stroke="#8c8c8c" stroke-width="0.5" stroke-linejoin="round"/>
<path d="M740.9,208.6 L757.4,201.7 L764.3,218.2Z" fill="#a2c694" stroke="#8c8c8c" stroke-width="0.6" stroke-linejoin="round"/>
<path d="M704.5,98.0 C704.0,100.2 702.4,106.2 701.5,111.0 C700.6,115.8 699.6,120.0 699.0,126.5 C698.4,132.9 698.0,142.3 697.8,149.7 C697.6,157.1 697.0,164.2 697.8,171.0 C698.5,177.8 701.5,187.4 702.3,190.7" fill="none" stroke="#3b78c2" stroke-width="1.8" stroke-dasharray="0.1 2.8" stroke-linecap="round"/>
<path d="M732.6,100.0 C734.7,106.7 741.8,128.3 745.0,140.0 C748.2,151.7 749.9,160.6 752.0,170.0 C754.1,179.4 756.5,191.8 757.4,196.2" fill="none" stroke="#3b78c2" stroke-width="1.8" stroke-dasharray="0.1 2.8" stroke-linecap="round"/>
<path d="M762.0,116.0 C761.5,121.1 760.1,136.4 758.8,146.6 C757.5,156.8 755.1,169.3 754.0,176.9 C752.9,184.5 752.3,189.5 752.0,192.0" fill="none" stroke="#3b78c2" stroke-width="1.8" stroke-dasharray="0.1 2.8" stroke-linecap="round"/>
<path d="M762.9,116.3 C765.0,122.3 772.1,136.5 775.3,152.1 C778.5,167.7 781.1,200.3 782.2,210.0" fill="none" stroke="#3b78c2" stroke-width="1.8" stroke-dasharray="0.1 2.8" stroke-linecap="round"/>
<path d="M782.0,210.0 C779.0,211.3 770.2,217.7 764.0,218.0 C757.8,218.3 748.2,213.0 745.0,212.0" fill="none" stroke="#3b78c2" stroke-width="1.8" stroke-dasharray="0.1 2.8" stroke-linecap="round"/>
<path d="M721.0,91.0 C721.0,95.8 720.5,114.0 720.7,120.0 C720.9,126.0 721.4,123.9 722.0,126.9 C722.6,129.9 723.3,134.5 724.1,137.9 C724.9,141.3 726.0,144.1 726.9,147.5 C727.8,150.9 728.7,154.9 729.6,158.6 C730.5,162.3 731.5,166.2 732.4,169.6 C733.3,173.0 734.4,176.2 735.1,179.2 C735.8,182.2 736.3,186.1 736.5,187.5" fill="none" stroke="#e6291f" stroke-width="2.2" stroke-dasharray="0.1 2.9" stroke-linecap="round"/>
<path d="M866.0,176.5 C868.4,176.0 875.5,183.4 880.0,187.0 C884.5,190.6 889.2,194.2 893.0,198.0 C896.8,201.8 899.8,203.3 903.0,210.0 C906.2,216.7 908.8,226.7 912.0,238.0 C915.2,249.3 919.5,266.5 922.5,277.7 C925.5,288.9 928.2,297.8 930.0,305.0 C931.8,312.2 932.4,316.4 933.3,321.0 C934.2,325.6 938.1,331.4 935.3,332.7 C932.5,334.0 923.6,333.4 916.4,329.0 C909.1,324.6 900.6,314.4 891.8,306.3 C883.0,298.2 869.4,288.1 863.4,280.7 C857.4,273.3 856.9,266.6 855.8,261.8 C854.6,257.0 856.2,255.6 856.5,252.0 C856.8,248.4 857.1,244.0 857.5,240.0 C857.9,236.0 858.3,231.5 859.0,228.0 C859.7,224.5 860.7,222.4 861.5,219.0 C862.3,215.6 863.3,212.3 864.0,207.5 C864.7,202.7 865.2,195.2 865.5,190.0 C865.8,184.8 863.6,177.0 866.0,176.5Z" fill="#f8cb9e" stroke="#8c8c8c" stroke-width="0.8" stroke-linejoin="round"/>
<path d="M856,261.5 L878.5,270.3 L933.4,319.5" fill="none" stroke="#8c8c8c" stroke-width="0.7"/>
<path d="M880.7,189.4 C881.9,195.3 885.7,212.9 888.0,225.0 C890.3,237.1 893.2,248.8 894.6,262.2 C896.0,275.6 895.9,298.4 896.2,305.6" fill="none" stroke="#3b78c2" stroke-width="1.8" stroke-dasharray="0.1 2.8" stroke-linecap="round"/>
<path d="M903.9,211.1 C902.9,215.9 899.5,231.5 898.0,240.0 C896.5,248.5 895.2,258.5 894.6,262.2" fill="none" stroke="#3b78c2" stroke-width="1.8" stroke-dasharray="0.1 2.8" stroke-linecap="round"/>
<path d="M778.0,533.0 C779.8,532.7 783.0,533.9 789.0,531.2 C795.0,528.5 805.7,521.6 814.1,516.7 C822.5,511.8 830.9,506.8 839.3,501.6 C847.7,496.4 856.0,491.2 864.4,485.3 C872.8,479.4 882.0,472.5 889.5,466.4 C897.0,460.3 903.2,454.1 909.6,448.8 C916.0,443.5 921.4,439.7 928.0,434.6 C934.6,429.5 942.8,422.8 949.0,418.2 C955.2,413.6 961.0,410.6 965.4,406.8 C969.8,403.0 973.6,397.3 975.2,395.4" fill="none" stroke="url(#gPlR)" stroke-width="3.2" stroke-linecap="round"/>
<path d="M974,381 C976,392 983,400 990,405 C982,404 972,404 963,409 C968,401 972,392 974,381Z" fill="#f0a040"/>
<path d="M763,524 C772,531 780,532 798,527 C788,535 785,546 789,558Z" fill="#d97a77"/>
<path d="M529.0,155.6 C534.2,155.7 551.7,155.8 560.0,156.0 C568.3,156.2 574.1,156.2 578.6,157.0 C583.1,157.8 584.0,158.6 586.8,161.1 C589.5,163.6 592.8,167.6 595.1,172.2 C597.4,176.8 599.1,182.2 600.6,188.7 C602.1,195.2 602.6,206.7 604.1,211.3 C605.6,215.9 607.8,215.2 609.6,216.3 C611.4,217.5 614.2,217.9 615.1,218.2" fill="none" stroke="#000" stroke-width="5" stroke-linecap="butt" stroke-linejoin="round"/>
<path d="M615.1,225.1 C615.3,227.8 616.7,236.5 616.5,241.6 C616.3,246.7 614.9,250.8 613.7,255.4 C612.6,260.0 610.5,264.1 609.6,269.1 C608.7,274.2 608.4,282.9 608.2,285.7" fill="none" stroke="#000" stroke-width="4.5" stroke-linecap="round" stroke-linejoin="round"/>
<path d="M619.9,161.5 C623.6,162.1 634.6,163.8 641.9,165.3 C649.2,166.9 660.2,169.9 663.9,170.8" fill="none" stroke="#000" stroke-width="5" stroke-linecap="round" stroke-linejoin="round"/>
<path d="M641.9,163 L641.9,168" stroke="#000" stroke-width="1"/>
<path d="M713.0,194.0 C715.0,193.5 720.9,191.7 725.0,191.0 C729.1,190.3 733.1,189.1 737.8,189.8 C742.5,190.5 750.5,194.4 753.0,195.3" fill="none" stroke="#000" stroke-width="2.5" stroke-linecap="round" stroke-linejoin="round"/>
<path d="M689.4,200.3 C688.0,201.5 683.5,203.5 681.2,207.2 C678.9,210.9 677.5,218.6 675.7,222.3 C673.9,226.0 671.1,228.0 670.2,229.2" fill="none" stroke="#000" stroke-width="4.5" stroke-linecap="round" stroke-linejoin="round"/>
<path d="M668.8,234.7 C667.6,237.2 664.2,245.1 661.9,249.9 C659.6,254.7 657.1,259.7 655.0,263.6 C652.9,267.5 650.2,270.1 649.5,273.3 C648.8,276.5 651.4,279.5 650.9,282.9 C650.4,286.3 648.4,290.2 646.8,293.9 C645.2,297.6 642.6,301.3 641.2,305.0 C639.8,308.7 639.0,314.2 638.5,316.0" fill="none" stroke="#000" stroke-width="5" stroke-linecap="round" stroke-linejoin="round"/>
<path d="M636.0,325.0 C635.2,327.5 633.1,335.0 631.0,340.0 C628.9,345.0 626.8,350.8 623.5,355.0 C620.2,359.2 613.9,362.1 611.0,365.0 C608.1,367.9 606.0,370.0 606.0,372.5 C606.0,375.0 608.9,377.3 611.0,380.0 C613.1,382.7 617.2,386.2 618.5,388.8 C619.8,391.2 619.5,393.1 618.5,395.0 C617.5,396.9 613.3,399.2 612.3,400.0" fill="none" stroke="#000" stroke-width="5.5" stroke-linecap="round" stroke-linejoin="round"/>
<path d="M565.8,411.1 C569,408 575,406.5 582,406.8 C590,408 596,411 599,411 C602,408 604,405.5 606.5,405.5 C609,409 609.5,416 609.4,421.3 C604,421.5 598,419 594,418.8 C584,417 574,415 565.8,411.1Z" fill="#000"/>
<path d="M798.6,225.0 C802.2,227.1 813.1,233.3 820.3,237.4 C827.5,241.5 836.8,246.2 842.0,249.8 C847.2,253.4 849.2,256.0 851.3,259.1 C853.3,262.2 854.0,263.2 854.3,268.4 C854.5,273.6 853.6,283.9 852.8,290.1 C852.0,296.3 850.0,299.9 849.7,305.6 C849.5,311.3 850.3,319.0 851.3,324.2 C852.3,329.4 855.1,334.9 855.9,337.0" fill="none" stroke="#000" stroke-width="5" stroke-linecap="round" stroke-linejoin="round"/>
<path d="M855.4,346.5 C854.5,349.0 852.2,357.5 849.7,361.6 C847.2,365.7 843.0,368.3 840.2,371.1 C837.4,373.9 834.9,375.8 832.7,378.6 C830.5,381.4 828.0,386.5 827.0,388.1" fill="none" stroke="#000" stroke-width="5" stroke-linecap="round" stroke-linejoin="round"/>
<path d="M814.0,402.0 C812.4,403.3 810.9,409.0 809.0,412.0 C807.1,415.0 805.1,417.1 802.4,420.0 C799.7,422.9 795.5,426.4 793.0,429.5 C790.5,432.6 789.0,435.6 787.3,438.9 C785.6,442.1 784.1,445.9 783.0,449.0 C781.9,452.1 782.2,454.8 780.7,457.8 C779.2,460.8 776.4,463.9 774.0,467.0 C771.6,470.1 769.2,473.4 766.5,476.7 C763.8,480.0 760.0,483.9 758.0,487.0 C756.0,490.1 755.2,492.6 754.2,495.6 C753.2,498.6 752.1,501.8 752.3,505.0 C752.4,508.2 753.7,511.8 755.1,514.6 C756.5,517.4 759.1,520.2 760.8,522.0 C762.4,523.8 763.7,525.7 765.0,525.5 C766.3,525.3 768.0,522.8 768.6,521.0 C769.2,519.2 769.4,517.3 768.4,514.6 C767.4,511.9 763.5,508.2 762.7,505.0 C761.9,501.8 762.4,498.8 763.6,495.6 C764.8,492.4 768.1,489.1 770.0,486.0 C771.9,482.9 773.2,479.9 775.0,476.7 C776.8,473.5 779.1,470.1 781.0,467.0 C782.9,463.9 784.8,461.0 786.3,457.8 C787.8,454.6 788.6,451.1 790.0,448.0 C791.4,444.9 792.7,442.0 794.8,438.9 C796.9,435.8 800.0,432.5 802.4,429.5 C804.8,426.5 806.9,423.9 809.0,421.0 C811.1,418.1 813.4,414.8 815.0,412.0 C816.6,409.2 818.7,405.7 818.5,404.0 C818.3,402.3 815.6,400.7 814.0,402.0Z" fill="#000" stroke="none" stroke-width="0.8" stroke-linejoin="round"/>
<path d="M934.9,331.6 C936.2,333.1 940.2,337.3 942.9,340.3 C945.6,343.3 948.2,346.3 950.9,349.4 C953.6,352.5 956.3,355.6 959.0,358.9 C961.7,362.1 964.3,365.5 967.0,368.9 C969.7,372.3 973.7,377.6 975.0,379.3" fill="none" stroke="#000" stroke-width="5" stroke-linecap="round" stroke-linejoin="round"/>
<path d="M994.0,406.4 C995.3,408.4 999.2,414.2 1001.7,418.3 C1004.2,422.4 1006.8,426.6 1009.3,431.0 C1011.8,435.4 1015.7,442.2 1017.0,444.5" fill="none" stroke="#000" stroke-width="5" stroke-linecap="butt" stroke-linejoin="round"/>
<path d="M984.0,345.5 C985.7,345.2 987.6,350.4 989.0,353.0 C990.4,355.6 991.4,358.0 992.6,361.0 C993.8,364.0 995.0,367.6 996.0,371.0 C997.0,374.4 998.0,377.7 998.8,381.2 C999.6,384.7 1000.6,389.2 1001.0,392.0 C1001.4,394.8 1001.4,396.0 1001.0,398.2 C1000.6,400.4 999.4,403.1 998.5,405.0 C997.6,406.9 997.1,409.6 995.7,409.8 C994.3,410.0 992.3,407.9 990.0,406.0 C987.7,404.1 984.0,401.2 981.7,398.2 C979.4,395.2 977.3,390.9 976.0,388.0 C974.7,385.1 974.5,382.9 974.0,381.0 C973.5,379.1 973.0,379.1 973.2,376.5 C973.5,373.9 974.5,369.3 975.5,365.7 C976.5,362.1 977.6,358.4 979.0,355.0 C980.4,351.6 982.3,345.8 984.0,345.5Z" fill="#a2c694" stroke="#7d7d7d" stroke-width="1.1" stroke-linejoin="round"/>
<path d="M973.5,376.5 C978,378 981,379 983,381 C988,387 993,393 996.5,399 C997.5,402 997,405 996.5,408" fill="none" stroke="#8c8c8c" stroke-width="0.8"/>
<path d="M677.7,72.5 C673.6,73.0 659.8,73.9 652.9,75.8 C646.0,77.7 641.9,80.4 636.4,84.1 C630.9,87.8 624.5,93.2 619.9,97.8 C615.3,102.4 612.9,105.6 608.8,111.6 C604.7,117.6 600.4,126.5 595.1,133.6 C589.8,140.7 580.2,150.9 577.2,154.3" fill="none" stroke="#e6291f" stroke-width="2" stroke-linecap="round" stroke-linejoin="round"/>
<path d="M863.0,172.4 C862.9,176.5 862.8,190.5 862.1,197.2 C861.4,203.9 860.3,207.5 859.0,212.7 C857.7,217.9 855.5,221.0 854.3,228.2 C853.1,235.4 852.3,251.4 851.9,256.0" fill="none" stroke="#e6291f" stroke-width="2" stroke-linecap="round" stroke-linejoin="round"/>
<path d="M643.4,79.0 L645.0,82.6 L646.6,79.0Z" fill="#e6291f"/>
<path d="M611.0,108.2 L614.8,109.3 L613.0,105.8Z" fill="#e6291f"/>
<path d="M591.2,139.4 L595.1,139.8 L592.8,136.6Z" fill="#e6291f"/>
<path d="M862.5,191.6 L866.1,190.0 L862.5,188.4Z" fill="#e6291f"/>
<path d="M855.0,227.6 L858.6,226.0 L855.0,224.4Z" fill="#e6291f"/>
<use href="#star" x="585" y="159.3" width="12" height="12"/>
<use href="#star" x="591.3" y="169.5" width="12" height="12"/>
<use href="#star" x="685.3" y="192.9" width="12" height="12"/>
<use href="#star" x="696.3" y="190.2" width="12" height="12"/>
<use href="#star" x="707.3" y="187.4" width="12" height="12"/>
<use href="#star" x="853.9" y="271.7" width="12" height="12"/>
<use href="#star" x="851.4" y="286.6" width="12" height="12"/>
<path d="M627.1,200.2 C628.1,198.5 631.6,193.2 633.0,190.0 C634.4,186.8 635.2,183.8 635.2,181.0 C635.2,178.2 634.4,175.3 633.0,173.5 C631.6,171.7 629.2,171.0 627.0,170.3 C624.8,169.6 621.2,169.6 620.0,169.5" fill="none" stroke="#8b6a48" stroke-width="2" stroke-dasharray="0.1 2.9" stroke-linecap="round" marker-end="url(#ah)"/>
<path d="M637.5,200.2 C637.7,197.8 637.8,189.8 638.8,186.0 C639.8,182.2 641.4,179.3 643.5,177.5 C645.6,175.7 648.2,174.8 651.2,175.3 C654.2,175.8 659.8,179.5 661.5,180.3" fill="none" stroke="#8b6a48" stroke-width="2" stroke-dasharray="0.1 2.9" stroke-linecap="round" marker-end="url(#ah)"/>
<path d="M726.8,207.7 C724.0,208.2 715.6,209.3 710.3,210.5 C705.0,211.7 697.6,213.9 695.1,214.6" fill="none" stroke="#8b6a48" stroke-width="2" stroke-dasharray="0.1 2.9" stroke-linecap="round" marker-end="url(#ah)"/>
<path d="M824.9,258.5 C827.1,259.4 835.0,261.2 838.0,264.0 C841.0,266.8 842.1,270.6 843.0,275.0 C843.9,279.4 843.4,287.6 843.5,290.1" fill="none" stroke="#8b6a48" stroke-width="2" stroke-dasharray="0.1 2.9" stroke-linecap="round" marker-end="url(#ah)"/>
<path d="M826.2,367.3 C823.5,371.9 815.2,386.2 810.0,395.0 C804.8,403.8 797.3,416.0 794.8,420.2" fill="none" stroke="#8b6a48" stroke-width="2" stroke-dasharray="0.1 2.9" stroke-linecap="round" marker-end="url(#ah)"/>
<path d="M780.2,515.7 C781.6,516.2 783.6,519.6 788.5,518.4 C793.4,517.2 802.0,512.7 809.3,508.7 C816.6,504.7 828.6,496.9 832.5,494.5" fill="none" stroke="#8b6a48" stroke-width="2" stroke-dasharray="0.1 2.9" stroke-linecap="round" marker-end="url(#ah)"/>
<path d="M799.6,553.1 C799.8,550.8 798.9,544.3 801.0,539.2 C803.1,534.1 808.4,526.8 812.1,522.6 C815.8,518.5 817.8,516.8 823.2,514.3 C828.6,511.8 841.0,508.9 844.5,507.8" fill="none" stroke="#8b6a48" stroke-width="2" stroke-dasharray="0.1 2.9" stroke-linecap="round" marker-end="url(#ah)"/>
<line x1="651.6" y1="68.3" x2="652.2" y2="84.0" stroke="#a9a9a9" stroke-width="1.7"/>
<g opacity="0.88"><ellipse cx="655.2" cy="57.3" rx="8.7" ry="3.6" transform="rotate(-6 655.2 57.3)" fill="#cbcbcb" stroke="#a3a3a3" stroke-width="1.7"/><ellipse cx="651.3" cy="64.7" rx="7" ry="3" fill="#cbcbcb" stroke="#a3a3a3" stroke-width="1.7"/><ellipse cx="652.2" cy="61.1" rx="3.6" ry="2.6" fill="#cbcbcb" stroke="#a3a3a3" stroke-width="1.7"/><ellipse cx="655.2" cy="57.3" rx="8.7" ry="3.6" transform="rotate(-6 655.2 57.3)" fill="#cbcbcb" stroke="none"/><ellipse cx="651.3" cy="64.7" rx="7" ry="3" fill="#cbcbcb" stroke="none"/><ellipse cx="652.2" cy="61.1" rx="3.6" ry="2.6" fill="#cbcbcb" stroke="none"/></g>
<path d="M649.0,87.3 L650.9,83.7 L653.5,83.7 L655.4,87.3Z" fill="#111"/>
<line x1="617.6" y1="111.1" x2="617.6" y2="125.5" stroke="#a9a9a9" stroke-width="1.7"/>
<g opacity="0.88"><ellipse cx="621.2" cy="100.1" rx="8.7" ry="3.6" transform="rotate(-6 621.2 100.1)" fill="#cbcbcb" stroke="#a3a3a3" stroke-width="1.7"/><ellipse cx="617.3" cy="107.5" rx="7" ry="3" fill="#cbcbcb" stroke="#a3a3a3" stroke-width="1.7"/><ellipse cx="618.2" cy="103.9" rx="3.6" ry="2.6" fill="#cbcbcb" stroke="#a3a3a3" stroke-width="1.7"/><ellipse cx="621.2" cy="100.1" rx="8.7" ry="3.6" transform="rotate(-6 621.2 100.1)" fill="#cbcbcb" stroke="none"/><ellipse cx="617.3" cy="107.5" rx="7" ry="3" fill="#cbcbcb" stroke="none"/><ellipse cx="618.2" cy="103.9" rx="3.6" ry="2.6" fill="#cbcbcb" stroke="none"/></g>
<path d="M614.4,128.8 L616.3,125.2 L618.9,125.2 L620.8,128.8Z" fill="#111"/>
<line x1="875.5" y1="219.1" x2="875.7" y2="233.3" stroke="#a9a9a9" stroke-width="1.7"/>
<g opacity="0.88"><ellipse cx="879.1" cy="208.1" rx="8.7" ry="3.6" transform="rotate(-6 879.1 208.1)" fill="#cbcbcb" stroke="#a3a3a3" stroke-width="1.7"/><ellipse cx="875.2" cy="215.5" rx="7" ry="3" fill="#cbcbcb" stroke="#a3a3a3" stroke-width="1.7"/><ellipse cx="876.1" cy="211.9" rx="3.6" ry="2.6" fill="#cbcbcb" stroke="#a3a3a3" stroke-width="1.7"/><ellipse cx="879.1" cy="208.1" rx="8.7" ry="3.6" transform="rotate(-6 879.1 208.1)" fill="#cbcbcb" stroke="none"/><ellipse cx="875.2" cy="215.5" rx="7" ry="3" fill="#cbcbcb" stroke="none"/><ellipse cx="876.1" cy="211.9" rx="3.6" ry="2.6" fill="#cbcbcb" stroke="none"/></g>
<path d="M872.5,236.6 L874.4,233.0 L877.0,233.0 L878.9,236.6Z" fill="#111"/>
<path d="M754.7,77.8 L726,123" stroke="#111" stroke-width="1.3" marker-end="url(#ahk)"/></g>
<circle cx="525" cy="713.0" r="301.0" fill="#fff"/>
<rect x="520.7" y="40" width="8.3" height="420" fill="#fff"/>
<g clip-path="url(#cL)"><circle cx="520.7" cy="713.0" r="301.0" fill="none" stroke="#f0c070" stroke-width="2.2"/><circle cx="520.7" cy="713.0" r="301.0" fill="none" stroke="#222" stroke-width="1.2" stroke-dasharray="6 2.2 1.4 2.2"/><path d="M-0.1,445.6 L1.5,441.3 L3.0,437.1 L4.6,432.8 L6.2,428.6 L7.8,424.4 L9.5,420.2 L11.2,416.0 L12.9,411.8 L14.7,407.6 L16.5,403.5 L18.3,399.3 L20.1,395.2 L21.9,391.1 L23.8,387.0 L25.7,382.9 L27.7,378.9 L29.7,374.8 L31.7,370.8 L33.7,366.7 L35.7,362.7 L37.8,358.7 L39.9,354.8 L42.0,350.8 L44.2,346.8 L46.4,342.9 L48.6,339.0 L50.8,335.1 L53.1,331.2 L55.4,327.3 L57.7,323.5 L60.1,319.6 L62.5,315.8 L64.9,312.0 L67.3,308.2 L69.7,304.5 L72.2,300.7 L74.7,297.0 L77.3,293.3 L79.8,289.6 L82.4,285.9 L85.0,282.3 L87.7,278.6 L90.4,275.0 L93.1,271.4 L95.8,267.9 L98.5,264.3 L101.3,260.8 L104.1,257.2 L106.9,253.8 L109.8,250.3 L112.7,246.8 L115.6,243.4 L118.5,240.0 L121.4,236.6 L124.4,233.2 L127.4,229.9 L130.5,226.6 L133.5,223.3 L136.6,220.0 L139.7,216.8 L142.8,213.5 L146.0,210.3 L149.2,207.1 L152.4,204.0 L155.6,200.9 L158.9,197.8 L162.1,194.7 L165.4,191.6 L168.8,188.6 L172.1,185.6 L175.5,182.6 L178.9,179.7 L182.3,176.7 L185.7,173.8 L189.2,171.0 L192.7,168.1 L196.2,165.3 L199.7,162.5 L203.3,159.7 L206.9,157.0 L210.5,154.3 L214.1,151.6 L217.7,149.0 L221.4,146.4 L225.1,143.8 L228.8,141.2 L232.5,138.7 L236.3,136.2 L240.0,133.7 L243.8,131.3 L247.6,128.9 L251.5,126.5 L255.3,124.1 L259.2,121.8 L263.1,119.5 L267.0,117.3 L270.9,115.1 L274.8,112.9 L278.8,110.7 L282.8,108.6 L286.8,106.5 L290.8,104.5 L294.8,102.4 L298.9,100.4 L302.9,98.5 L307.0,96.6 L311.1,94.7 L315.2,92.8 L319.4,91.0 L323.5,89.2 L327.7,87.5 L331.8,85.8 L336.0,84.1 L340.2,82.5 L344.4,80.9 L348.7,79.3 L352.9,77.8 L357.2,76.3 L361.4,74.8 L365.7,73.4 L370.0,72.0 L374.3,70.7 L378.6,69.4 L383.0,68.1 L387.3,66.9 L391.7,65.7 L396.0,64.5 L400.4,63.4 L404.8,62.3 L409.2,61.3 L413.6,60.3 L418.0,59.3 L422.4,58.4 L426.8,57.5 L431.2,56.6 L435.6,55.8 L440.1,55.1 L444.5,54.3 L449.0,53.7 L453.4,53.0 L457.9,52.4 L462.4,51.8 L466.8,51.3 L471.3,50.8 L475.8,50.4 L480.3,50.0 L484.8,49.6 L489.3,49.3 L493.7,49.0 L498.2,48.8 L502.7,48.6 L507.2,48.4 L511.7,48.3 L516.2,48.3 L520.7,48.2 L525.2,48.2 L529.7,48.3 L534.2,48.4 L538.6,48.5 L543.1,48.7" fill="none" stroke="#8a8a8a" stroke-width="1.1"/></g>
<g clip-path="url(#cR)"><circle cx="529.0" cy="713.0" r="301.0" fill="none" stroke="#f0c070" stroke-width="2.2"/><circle cx="529.0" cy="713.0" r="301.0" fill="none" stroke="#222" stroke-width="1.2" stroke-dasharray="6 2.2 1.4 2.2"/><path d="M506.6,48.7 L511.1,48.5 L515.6,48.4 L520.2,48.3 L524.7,48.3 L529.2,48.3 L533.7,48.3 L538.3,48.4 L542.8,48.6 L547.3,48.7 L551.9,49.0 L556.4,49.2 L560.9,49.5 L565.4,49.8 L570.0,50.2 L574.5,50.6 L579.0,51.1 L583.5,51.6 L588.0,52.1 L592.5,52.7 L597.0,53.4 L601.5,54.0 L606.0,54.7 L610.5,55.5 L614.9,56.2 L619.4,57.1 L623.9,57.9 L628.3,58.8 L632.8,59.8 L637.2,60.8 L641.6,61.8 L646.1,62.8 L650.5,63.9 L654.9,65.1 L659.3,66.3 L663.6,67.5 L668.0,68.7 L672.4,70.0 L676.7,71.3 L681.1,72.7 L685.4,74.1 L689.7,75.6 L694.0,77.0 L698.3,78.5 L702.5,80.1 L706.8,81.7 L711.0,83.3 L715.3,85.0 L719.5,86.7 L723.7,88.4 L727.9,90.2 L732.1,92.0 L736.2,93.8 L740.4,95.7 L744.5,97.6 L748.6,99.5 L752.7,101.5 L756.8,103.5 L760.8,105.6 L764.9,107.7 L768.9,109.8 L772.9,111.9 L776.9,114.1 L780.8,116.3 L784.8,118.6 L788.7,120.8 L792.6,123.1 L796.5,125.5 L800.4,127.9 L804.2,130.3 L808.1,132.7 L811.9,135.2 L815.7,137.7 L819.4,140.2 L823.2,142.8 L826.9,145.4 L830.6,148.0 L834.3,150.6 L837.9,153.3 L841.6,156.0 L845.2,158.8 L848.8,161.5 L852.4,164.3 L855.9,167.1 L859.4,170.0 L862.9,172.9 L866.4,175.8 L869.9,178.7 L873.3,181.7 L876.7,184.7 L880.1,187.7 L883.5,190.7 L886.8,193.8 L890.1,196.9 L893.4,200.0 L896.6,203.1 L899.9,206.3 L903.1,209.5 L906.3,212.7 L909.4,216.0 L912.6,219.2 L915.7,222.5 L918.8,225.8 L921.8,229.2 L924.9,232.5 L927.9,235.9 L930.8,239.3 L933.8,242.8 L936.7,246.2 L939.6,249.7 L942.5,253.2 L945.3,256.7 L948.2,260.3 L950.9,263.8 L953.7,267.4 L956.5,271.0 L959.2,274.6 L961.8,278.3 L964.5,281.9 L967.1,285.6 L969.7,289.3 L972.3,293.0 L974.9,296.8 L977.4,300.5 L979.9,304.3 L982.3,308.1 L984.8,311.9 L987.2,315.8 L989.5,319.6 L991.9,323.5 L994.2,327.4 L996.5,331.3 L998.8,335.2 L1001.0,339.1 L1003.2,343.1 L1005.4,347.0 L1007.6,351.0 L1009.7,355.0 L1011.8,359.0 L1013.8,363.1 L1015.9,367.1 L1017.9,371.2 L1019.9,375.2 L1021.8,379.3 L1023.7,383.4 L1025.6,387.6 L1027.5,391.7 L1029.3,395.8 L1031.1,400.0 L1032.9,404.2 L1034.7,408.4 L1036.4,412.6 L1038.1,416.8 L1039.7,421.0 L1041.4,425.2 L1043.0,429.5 L1044.5,433.8 L1046.1,438.0 L1047.6,442.3 L1049.1,446.6 L1050.5,450.9" fill="none" stroke="#8a8a8a" stroke-width="1.1"/></g>
<rect x="0" y="578.7" width="520.5" height="1.3" fill="#f5e5cc"/><rect x="529.5" y="578.7" width="522.5" height="1.3" fill="#f5e5cc"/>
<text class="h" x="15.3" y="14.3" textLength="113.5" lengthAdjust="spacing">(a) 2.7–2.5 Ga</text>
<text class="h" x="15.3" y="32.6" textLength="111" lengthAdjust="spacing">Late Archean</text>
<text class="h" x="15.3" y="51.1" textLength="125" lengthAdjust="spacing">plate tectonics</text>
<text class="h" x="1039.8" y="14.5" text-anchor="end" textLength="114" lengthAdjust="spacing">(b) 2.1–1.9 Ga</text>
<text class="h" x="1039.8" y="32.8" text-anchor="end" textLength="182.5" lengthAdjust="spacing">Mid-Paleoproterozoic</text>
<text class="h" x="1039.8" y="51.2" text-anchor="end" textLength="124" lengthAdjust="spacing">plate tectonics</text>
<text class="r" x="113.5" y="127.8" text-anchor="middle" textLength="95" lengthAdjust="spacing">smaller arcs,</text>
<text class="r" x="114.2" y="143.4" text-anchor="middle" textLength="122.5" lengthAdjust="spacing">oceanic plateau,</text>
<text class="r" x="113.7" y="158.6" text-anchor="middle" textLength="180.5" lengthAdjust="spacing">micro-continental blocks</text>
<text class="r" x="278" y="51.9" text-anchor="middle" textLength="156" lengthAdjust="spacing">Altaid-style accretion</text>
<text class="r" x="278.2" y="67.5" text-anchor="middle" textLength="107" lengthAdjust="spacing">&amp; soft collision</text>
<text class="r" x="467.7" y="12.6" text-anchor="middle" textLength="55" lengthAdjust="spacing">warmer</text>
<text class="r" x="467.7" y="26.4" text-anchor="middle" textLength="71" lengthAdjust="spacing">shallower</text>
<text class="r" x="467.9" y="39.8" text-anchor="middle" textLength="80.5" lengthAdjust="spacing">subduction</text>
<text class="b" x="614" y="12.6" text-anchor="middle" textLength="45.5" lengthAdjust="spacing">cooler</text>
<text class="b" x="614.2" y="26.4" text-anchor="middle" textLength="51.5" lengthAdjust="spacing">deeper</text>
<text class="b" x="614" y="39.8" text-anchor="middle" textLength="80.5" lengthAdjust="spacing">subduction</text>
<text class="b" x="767.6" y="52.5" text-anchor="middle" textLength="119.5" lengthAdjust="spacing">Himalayan-style</text>
<text class="b" x="767.2" y="68.5" text-anchor="middle" textLength="61" lengthAdjust="spacing">collision</text>
<text class="b" x="930.3" y="142.8" text-anchor="middle" textLength="43.5" lengthAdjust="spacing">larger</text>
<text class="b" x="930.2" y="157.3" text-anchor="middle" textLength="132.5" lengthAdjust="spacing">continental blocks</text>
<text class="b2" x="406.5" y="136.5" text-anchor="middle" textLength="56" lengthAdjust="spacingAndGlyphs">foreland</text>
<text class="b2h" x="734.8" y="152.5" text-anchor="middle" textLength="52" lengthAdjust="spacingAndGlyphs" transform="rotate(69 734.8 152.5)">foreland</text>
<text class="k14" x="454.2" y="142" text-anchor="middle">IA</text>
<text class="k14" x="608.8" y="145" text-anchor="middle">IA</text>
<text class="k14" x="346.8" y="167.5" text-anchor="middle" transform="rotate(-20 346.8 167.5)">MC</text>
<text class="k14" x="232.5" y="194.5" text-anchor="middle" transform="rotate(-42 232.5 194.5)">MC</text>
<text class="k14" x="134.5" y="286.6" text-anchor="middle" transform="rotate(-52 134.5 286.6)">IA</text>
<text class="k14" x="709" y="163.5" text-anchor="middle">MC</text>
<text class="k14" x="273" y="200" text-anchor="middle" transform="rotate(-12 273 200)">OP</text>
<text class="k13" x="989.8" y="384.5" text-anchor="middle" transform="rotate(42 989.8 384.5)">OP</text>
<text class="k13" x="59" y="410"></text>
<text class="k14" x="773.5" y="189" text-anchor="middle" transform="rotate(28 773.5 189)">Craton</text>
<text class="k14" x="899.3" y="276" text-anchor="middle" transform="rotate(35 899.3 276)">Craton</text>
<text class="k13" x="791.3" y="173.5" text-anchor="middle" textLength="92" lengthAdjust="spacingAndGlyphs" transform="rotate(70.5 791.3 173.5)">passive margin</text>
<text class="m" x="497" y="209.3" text-anchor="middle" textLength="37" lengthAdjust="spacingAndGlyphs" transform="rotate(-1 497 209.3)">upper</text>
<text class="m" x="553" y="211.5" text-anchor="middle" textLength="43" lengthAdjust="spacingAndGlyphs" transform="rotate(4 553 211.5)">mantle</text>
<text class="m" x="495.5" y="316" text-anchor="middle" textLength="35" lengthAdjust="spacingAndGlyphs">lower</text>
<text class="m" x="556" y="316" text-anchor="middle" textLength="45" lengthAdjust="spacingAndGlyphs" transform="rotate(2 556 316)">mantle</text>
<text class="m" x="669.7" y="327" text-anchor="middle" textLength="45" lengthAdjust="spacingAndGlyphs">sinking</text>
<text class="m" x="669.7" y="342" text-anchor="middle" textLength="25" lengthAdjust="spacingAndGlyphs">slab</text>
<text class="m2" x="494" y="405.5" text-anchor="middle" textLength="43.5" lengthAdjust="spacingAndGlyphs" transform="rotate(-6 494 405.5)">2900 km</text>
<text class="m2" x="553" y="400" text-anchor="middle" textLength="39" lengthAdjust="spacingAndGlyphs" transform="rotate(3 553 400)">D&#8221;layer</text>
<line x1="547.3" y1="402.5" x2="547.6" y2="408.6" stroke="#333" stroke-width="1.3"/>
<text class="m2" x="113.6" y="378.4" text-anchor="middle" textLength="36" lengthAdjust="spacingAndGlyphs" transform="rotate(-44 113.6 378.4)">410 km</text>
<text class="m2" x="130.5" y="392.6" text-anchor="middle" textLength="36" lengthAdjust="spacingAndGlyphs" transform="rotate(-44 130.5 392.6)">660 km</text>
<text class="m" x="318.5" y="320.5" text-anchor="middle" textLength="33.5" lengthAdjust="spacingAndGlyphs" transform="rotate(-115 318.5 320.5)">Plume</text>
<text class="m" x="342" y="322" text-anchor="middle" textLength="62" lengthAdjust="spacingAndGlyphs" transform="rotate(65 342 322)">bottom-up</text>
<text class="m" x="800" y="389" text-anchor="middle" textLength="55" lengthAdjust="spacingAndGlyphs" transform="rotate(-62 800 389)">top-down</text>
<text class="m" x="862" y="472" text-anchor="middle" textLength="36" lengthAdjust="spacingAndGlyphs" transform="rotate(-39 862 472)">Plume</text>
<text class="p" x="325.5" y="226" text-anchor="middle" textLength="28" lengthAdjust="spacingAndGlyphs" transform="rotate(-17 325.5 226)">slab</text>
<text class="p" x="349" y="233" text-anchor="middle" textLength="60" lengthAdjust="spacingAndGlyphs" transform="rotate(-25 349 233)">break-off</text>
<path id="mtz" d="M878.8,350.8 A503.5,503.5 0 0 1 967.2,465.1" fill="none"/>
<text class="m" style="font-size:14.5px"><textPath href="#mtz" startOffset="6" textLength="139.5" lengthAdjust="spacingAndGlyphs">mantle transition zone</textPath></text>
<rect x="11.1" y="528.6" width="29.2" height="16.6" fill="#000"/>
<rect x="11.6" y="557" width="28.2" height="14.5" fill="#f8cb9e" stroke="#000" stroke-width="1"/>
<text class="l" x="49.5" y="541.6" textLength="144.5" lengthAdjust="spacing">oceanic lithosphere</text>
<text class="l" x="49.5" y="570" textLength="169" lengthAdjust="spacing">continental lithosphere</text>
<path d="M323,541.7 L347.1,533.5" stroke="#e6291f" stroke-width="2.3" stroke-dasharray="0.1 3.1" stroke-linecap="round"/>
<path d="M323,568.8 L347.1,560.2" stroke="#3b78c2" stroke-width="1.9" stroke-dasharray="0.1 2.7" stroke-linecap="round"/>
<text class="l" x="356.3" y="541" textLength="86.5" lengthAdjust="spacing">suture zone</text>
<text class="l" x="356.3" y="568.8" textLength="114" lengthAdjust="spacing">previous suture</text>
<path d="M519.3,542 L545.1,533" stroke="#e6291f" stroke-width="2" stroke-linecap="round"/><path d="M529.5,539.2 L534,537.3 L534.6,543.8Z" fill="#e6291f"/>
<path transform="translate(534.3,564) scale(0.75)" d="M0,-5 L1.3,-1.7 L4.8,-1.5 L2.1,0.7 L3,4.1 L0,2.2 L-3,4.1 L-2.1,0.7 L-4.8,-1.5 L-1.3,-1.7Z" fill="#3a70c0"/>
<text class="l" x="552.9" y="541" textLength="120.5" lengthAdjust="spacing">subduction zone</text>
<text class="l" x="552.9" y="568.8" textLength="139" lengthAdjust="spacing">high-pressure rock</text>
<text class="l2" x="883.5" y="534" textLength="143.5" lengthAdjust="spacing">MC: microcontinent</text>
<text class="l2" x="883.5" y="550.5" textLength="95" lengthAdjust="spacing">IA: island arc</text>
<text class="l2" x="883.5" y="567.5" textLength="148" lengthAdjust="spacing">OP: oceanic plateau</text></svg>
</body></html>
